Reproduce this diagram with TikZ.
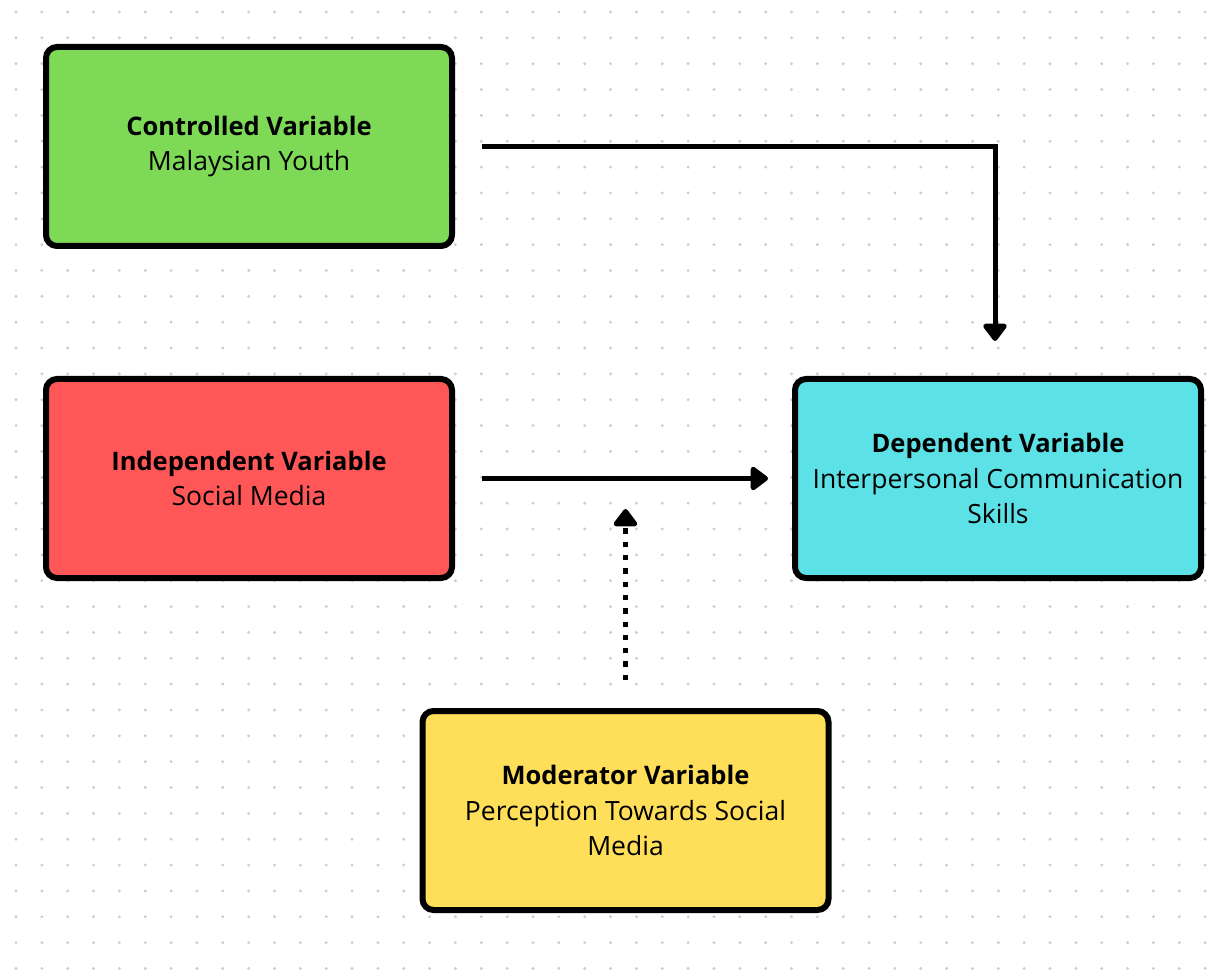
\documentclass[tikz,border=0pt]{standalone}
\usepackage{fontspec}
\setmainfont{Open Sans}
\usetikzlibrary{arrows.meta}
\definecolor{cgreen}{HTML}{7ED957}
\definecolor{cred}{HTML}{FF5757}
\definecolor{ccyan}{HTML}{5CE1E6}
\definecolor{cyellow}{HTML}{FFDE59}
\definecolor{cdot}{HTML}{C9CDD8}
\newcommand{\vtitle}[1]{{\fontsize{25.5}{35.5}\selectfont\bfseries #1}}
\tikzset{
  varbox/.style={draw=black, line width=6pt, rounded corners=11pt,
    minimum width=406pt, minimum height=199pt, align=center,
    font=\fontsize{26.5}{35.5}\selectfont, text=black, inner sep=0pt},
  arr/.style={line width=5pt, line join=miter,
    -{Triangle[width=27pt,length=19pt,round]}},
  dotarr/.style={line width=5.5pt, dash pattern=on 5.3pt off 8pt,
    -{Triangle[width=27pt,length=19pt,round]}},
}
\begin{document}
\begin{tikzpicture}[x=1pt,y=-1pt]
\useasboundingbox[fill=white] (0,0) rectangle (1229,973);
\foreach \i in {0,...,47}{
  \foreach \j in {0,...,37}{
    \fill[cdot] (16+\i*25.85, 12+\j*25.85) circle (1.6pt);
  }
}
\node[varbox, fill=cgreen] (ctrl) at (249,146.5) {\vtitle{Controlled Variable}\\Malaysian Youth};
\node[varbox, fill=cred] (indep) at (249,478.5) {\vtitle{Independent Variable}\\Social Media};
\node[varbox, fill=ccyan] (dep) at (998,478.5) {\vtitle{Dependent Variable}\\Interpersonal Communication\\Skills};
\node[varbox, fill=cyellow] (mod) at (625.5,810.5) {\vtitle{Moderator Variable}\\Perception Towards Social\\Media};
\draw[arr] ([xshift=27pt]ctrl.east) -| ([xshift=-3pt,yshift=35pt]dep.north);
\draw[arr] ([xshift=27pt]indep.east) -- ([xshift=-24pt]dep.west);
\draw[dotarr] ([yshift=28pt]mod.north) -- ([yshift=199pt]mod.north);
\end{tikzpicture}
\end{document}
